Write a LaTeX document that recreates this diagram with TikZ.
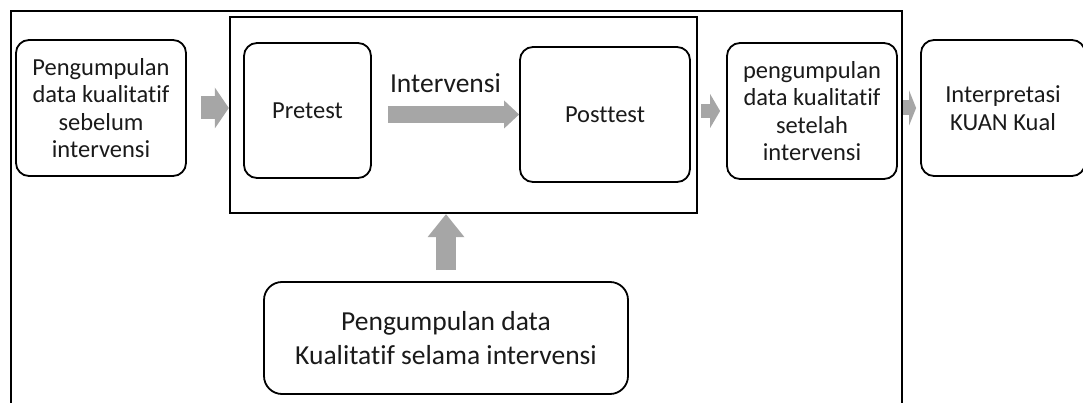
\documentclass[tikz,border=0pt]{standalone}
\usepackage{fontspec}
\setmainfont{Carlito}[Ligatures=NoCommon]
\usetikzlibrary{arrows.meta}

\definecolor{arrowgray}{HTML}{A6A6A6}
\definecolor{textgray}{HTML}{1A1A1A}

\tikzset{
  stepbox/.style={draw, line width=1.8pt, rounded corners=13pt, align=center,
    text=textgray, font=\fontsize{24.5}{27.5}\selectfont},
  framebox/.style={draw, line width=2pt},
  blockarrow/.style n args={3}{draw=arrowgray, line width=#1,
    -{Triangle[width=#2, length=#3, line width=0pt]}},
}

\begin{document}
\begin{tikzpicture}[x=1pt,y=-1pt]
\useasboundingbox (0,0) rectangle (1083,403);
% frames
\node[framebox, minimum width=891, minimum height=409] (outer) at (456.5,215.5) {};
\node[framebox, line width=2.4pt, minimum width=467, minimum height=196] (frame) at (463.5,115) {};
% boxes
\node[stepbox, minimum width=170, minimum height=136] (before) at (101,108)
  {Pengumpulan\\data kualitatif\\sebelum\\intervensi};
\node[stepbox, minimum width=127, minimum height=135] (pretest) at (307.5,110.5) {Pretest};
\node[stepbox, minimum width=170, minimum height=135] (posttest) at (605,114.5) {Posttest};
\node[stepbox, minimum width=170, minimum height=136] (after) at (812,111)
  {pengumpulan\\data kualitatif\\setelah\\intervensi};
\node[stepbox, minimum width=164, minimum height=136] (interp) at (1003,108)
  {Interpretasi\\KUAN Kual};
\node[stepbox, rounded corners=18pt, minimum width=364, minimum height=112,
  font=\fontsize{27.5}{34}\selectfont] (during) at (446,338)
  {Pengumpulan data\\Kualitatif selama intervensi};
% arrows
\draw[blockarrow={23pt}{41pt}{14pt}, shorten <=14pt] (before.east) -- (before.east -| frame.west);
\draw[blockarrow={17pt}{28pt}{15pt}, shorten <=16pt] (pretest.east |- posttest) -- (posttest.west)
  node[midway, yshift=31pt, text=textgray, font=\fontsize{27.5}{30}\selectfont] (intlabel) {Intervensi};
\draw[blockarrow={14pt}{34pt}{10pt}, shorten <=3pt, shorten >=6pt] (after.west -| frame.east) -- (after.west);
\draw[blockarrow={15pt}{35pt}{7pt}, shorten >=4pt] (interp.west -| outer.east) -- (interp.west);
\draw[blockarrow={20pt}{37pt}{23pt}, shorten <=11pt] (during.north) -- (during.north |- frame.south);
\end{tikzpicture}
\end{document}
